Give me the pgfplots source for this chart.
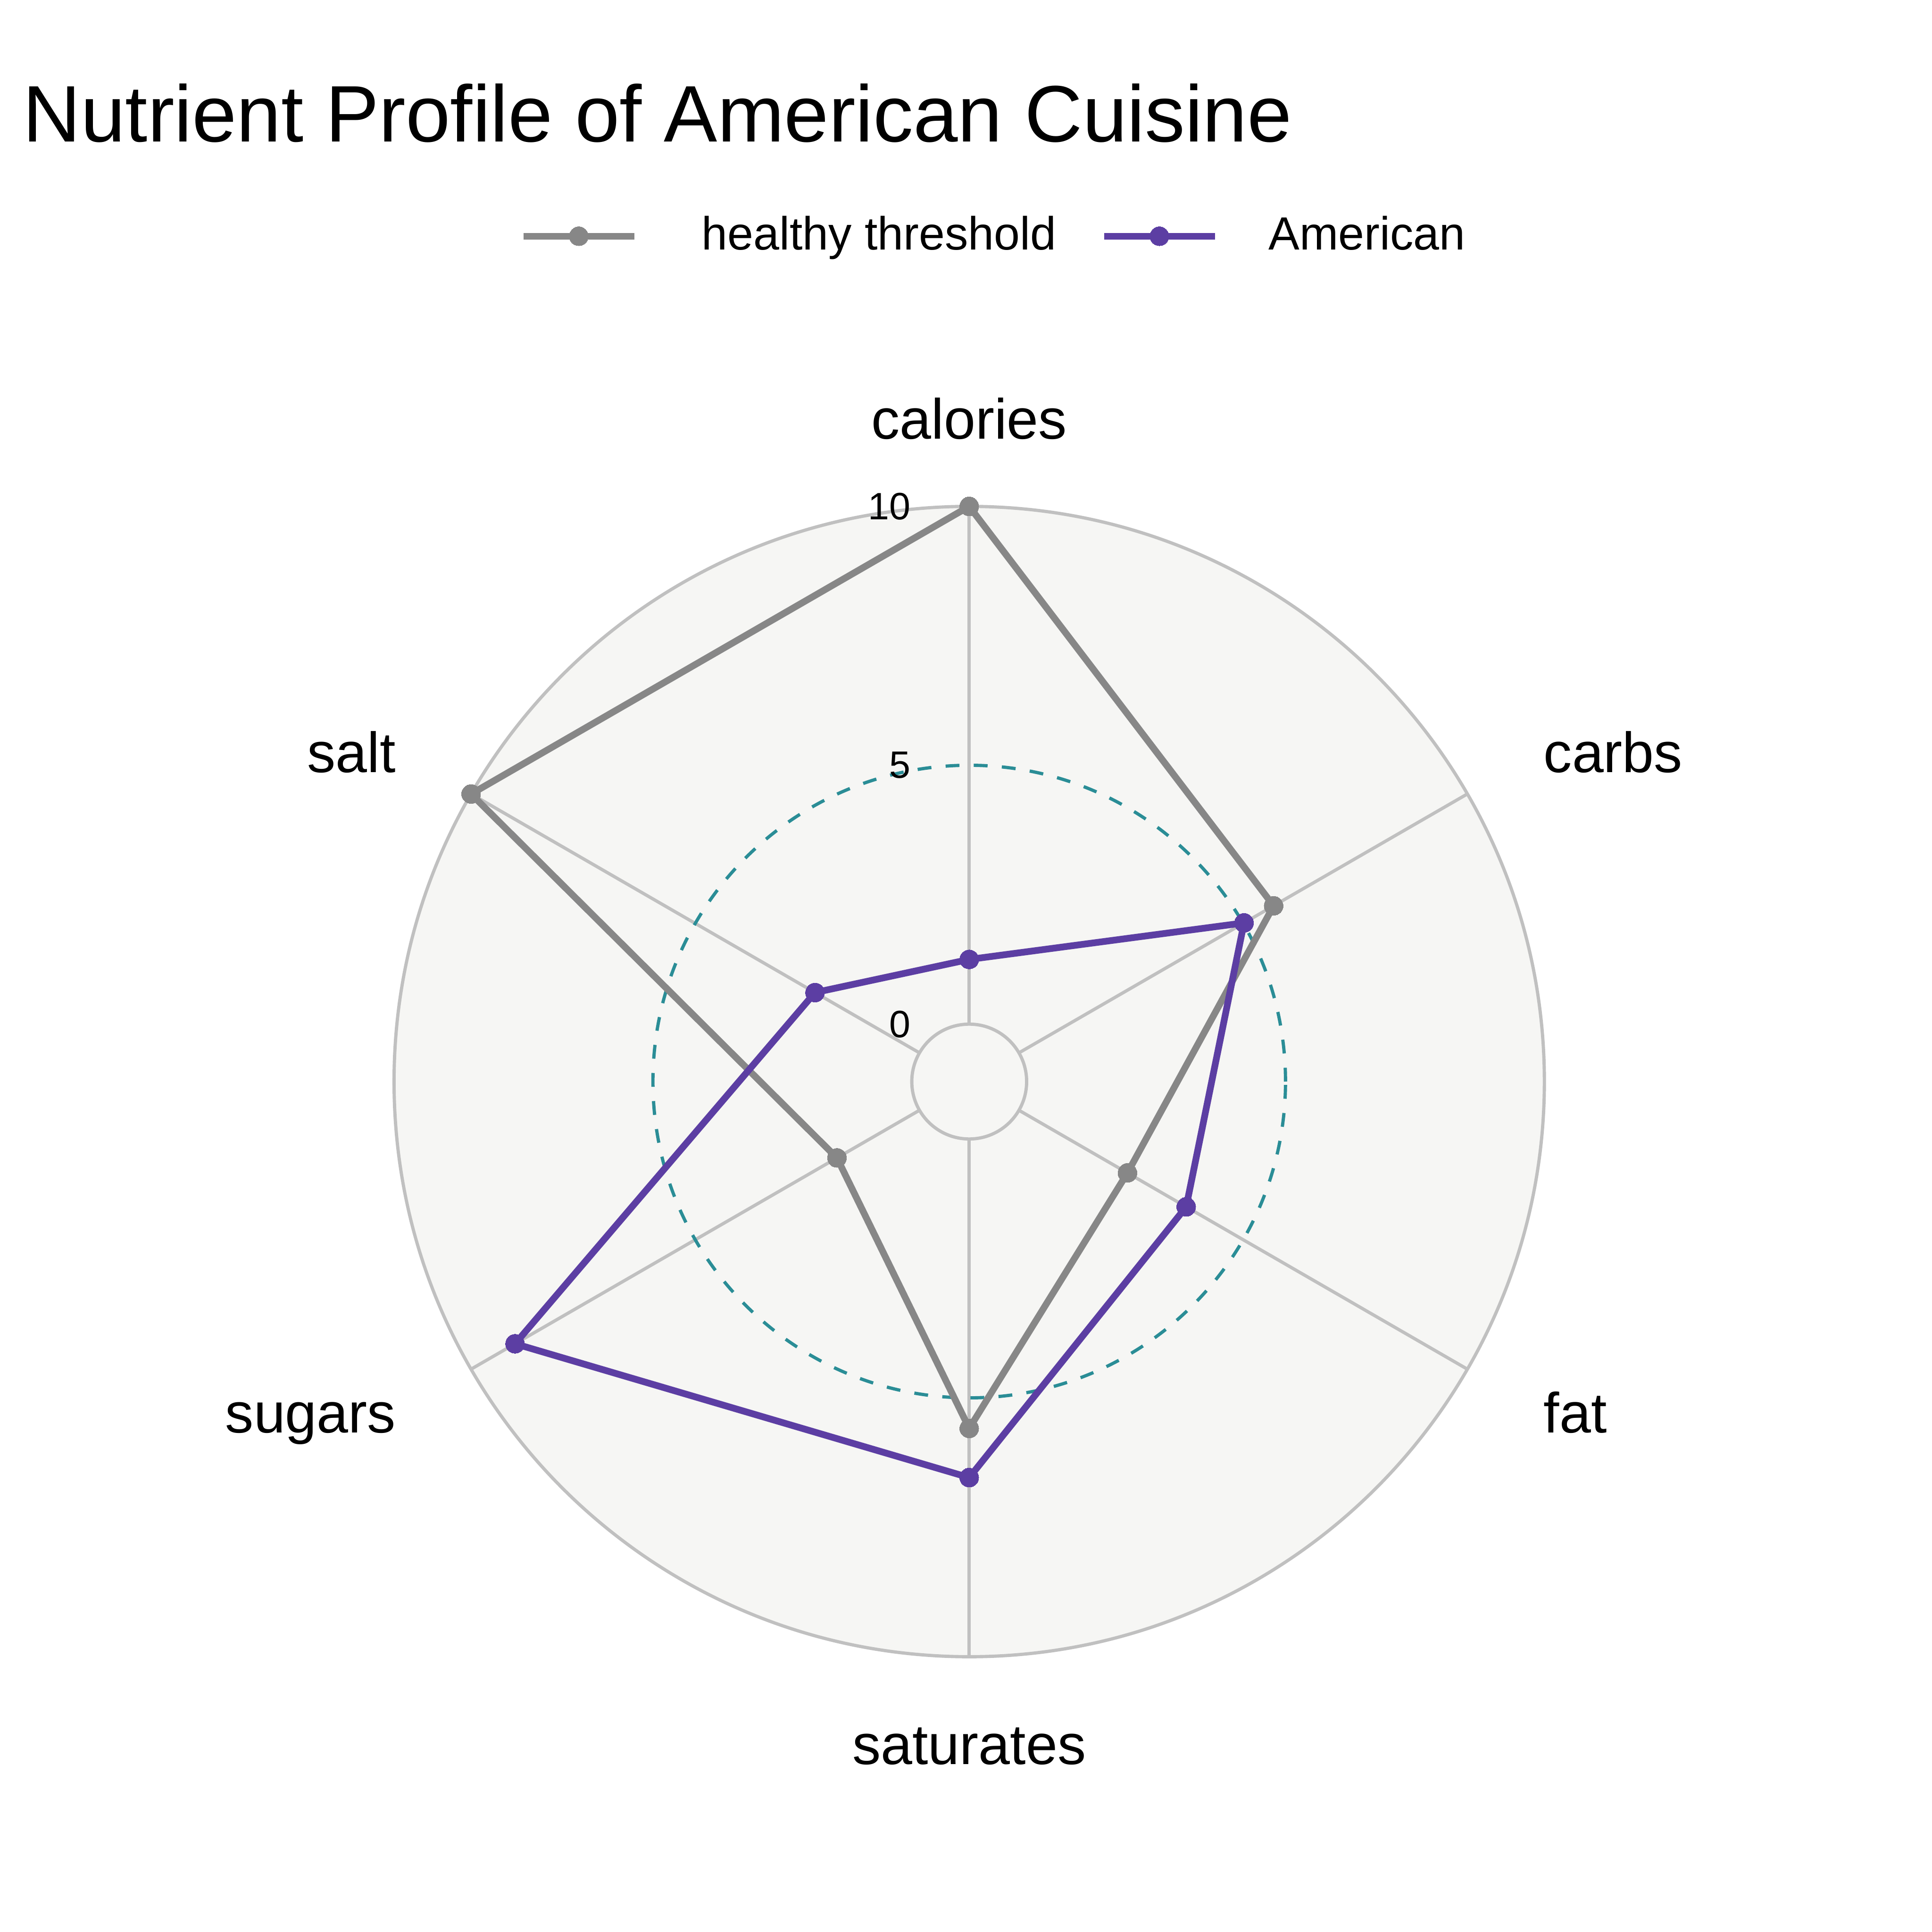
\documentclass[border=0pt]{standalone}
\usepackage{fontspec}
\setmainfont{Liberation Sans}
\usepackage{pgfplots}
\pgfplotsset{compat=1.18}
\usepackage{pgfplotstable}
\definecolor{thr}{RGB}{135,135,135}
\definecolor{usa}{RGB}{92,62,163}
\definecolor{dashc}{RGB}{42,141,150}
\definecolor{gridc}{RGB}{192,192,192}
\definecolor{bgc}{RGB}{246,246,244}

\pgfplotstableread{
ang val
90 10
30 5.68
-30 2.42
-90 5.59
-150 1.84
150 10
90 10
}\healthy
\pgfplotstableread{
ang val
90 1.25
30 5.02
-30 3.73
-90 6.54
-150 9.02
150 2.33
90 1.25
}\american

\begin{document}
\begin{tikzpicture}
\path[use as bounding box] (0,0) rectangle (15.68,15.68);
\node[anchor=base west, font=\fontsize{18.5}{22}\selectfont, inner sep=0pt] at (0.18,14.53) {Nutrient Profile of American Cuisine};
\begin{axis}[
  at={(7.866cm,6.902cm)}, anchor=origin,
  x=0.4202cm, y=0.4202cm,
  xmin=-12, xmax=12, ymin=-12, ymax=12,
  hide axis, clip=false,
  legend columns=2,
  legend style={draw=none, fill=none, inner sep=0pt, outer sep=0pt,
    at={(axis description cs:0.1385,1.1803)}, anchor=west,
    font=\fontsize{10.75}{13}\selectfont,
    nodes={inner sep=0pt},
    /tikz/column 1/.style={column sep=0.52cm},
    /tikz/column 2/.style={column sep=0.36cm},
    /tikz/column 3/.style={column sep=0.41cm}},
  legend cell align=left,
  legend image code/.code={\draw[mark repeat=2,mark phase=2,#1] plot coordinates {(0cm,0cm) (0.45cm,0cm) (0.9cm,0cm)};},
]
\fill[bgc] (axis cs:0,0) circle[radius=11.109];
\draw[gridc, line width=0.75pt] (axis cs:0,0) circle[radius=11.109];
\draw[gridc, line width=0.75pt] (axis cs:0,11.109) -- (axis cs:0,-11.109);
\draw[gridc, line width=0.75pt] (axis cs:9.6207,5.5545) -- (axis cs:-9.6207,-5.5545);
\draw[gridc, line width=0.75pt] (axis cs:9.6207,-5.5545) -- (axis cs:-9.6207,5.5545);
\fill[bgc] (axis cs:0,0) circle[radius=1.109];
\draw[gridc, line width=0.75pt] (axis cs:0,0) circle[radius=1.109];
\draw[dashc, line width=0.75pt, dash pattern=on 3.2pt off 3.3pt] (axis cs:0,0) circle[radius=6.109];

\addplot[thr, line width=1.55pt, line join=round, mark=*, mark size=2.2pt, mark options={solid, fill=thr, draw=thr, line width=0pt}]
  table[x expr={(\thisrow{val}+1.109)*cos(\thisrow{ang})}, y expr={(\thisrow{val}+1.109)*sin(\thisrow{ang})}] {\healthy};
\addlegendentry{healthy threshold}
\addplot[usa, line width=1.55pt, line join=round, mark=*, mark size=2.2pt, mark options={solid, fill=usa, draw=usa, line width=0pt}]
  table[x expr={(\thisrow{val}+1.109)*cos(\thisrow{ang})}, y expr={(\thisrow{val}+1.109)*sin(\thisrow{ang})}] {\american};
\addlegendentry{American}

\node[anchor=east, inner sep=0pt, font=\fontsize{8.8}{10}\selectfont] at (axis cs:-1.12,11.109) {10};
\node[anchor=east, inner sep=0pt, font=\fontsize{8.8}{10}\selectfont] at (axis cs:-1.12,6.109) {5};
\node[anchor=east, inner sep=0pt, font=\fontsize{8.8}{10}\selectfont] at (axis cs:-1.12,1.109) {0};

\node[anchor=base, inner sep=0pt, font=\fontsize{13.1}{15}\selectfont] at (axis cs:0,12.41) {calories};
\node[anchor=base, inner sep=0pt, font=\fontsize{13.1}{15}\selectfont] at (axis cs:0,-13.19) {saturates};
\node[anchor=base west, inner sep=0pt, font=\fontsize{13.1}{15}\selectfont] at (axis cs:11.08,5.97) {carbs};
\node[anchor=base west, inner sep=0pt, font=\fontsize{13.1}{15}\selectfont] at (axis cs:11.08,-6.78) {fat};
\node[anchor=base east, inner sep=0pt, font=\fontsize{13.1}{15}\selectfont] at (axis cs:-11.06,5.97) {salt};
\node[anchor=base east, inner sep=0pt, font=\fontsize{13.1}{15}\selectfont] at (axis cs:-11.06,-6.78) {sugars};
\end{axis}
\end{tikzpicture}
\end{document}
